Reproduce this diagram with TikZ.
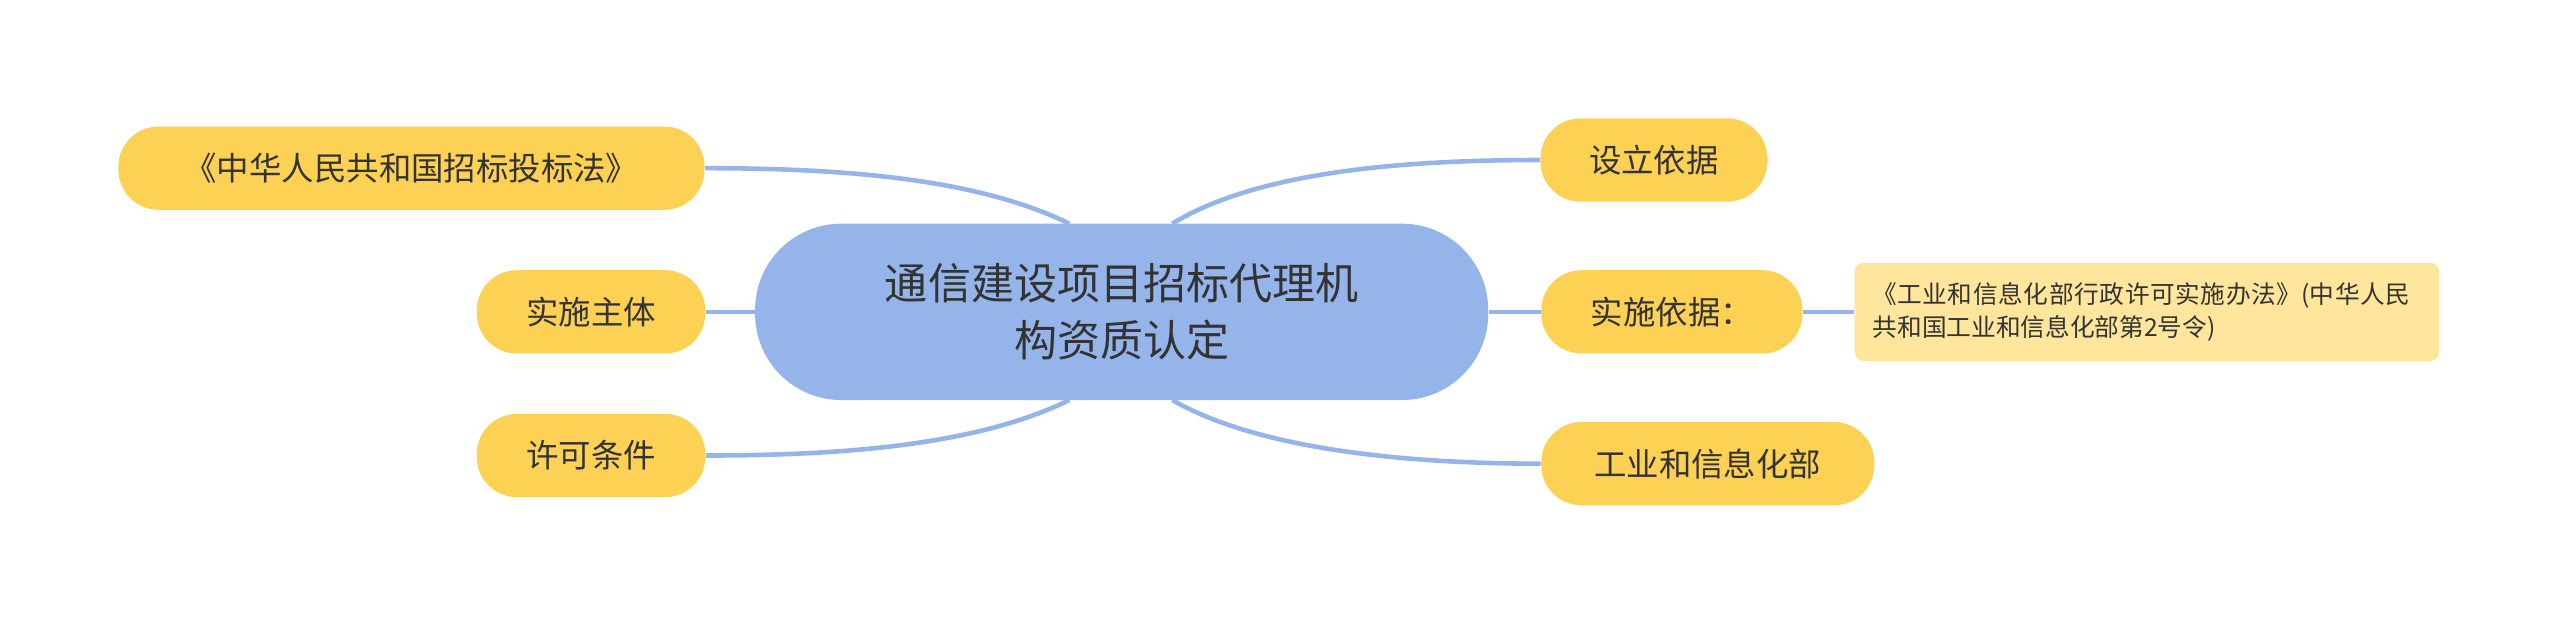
\documentclass[tikz,border=0pt]{standalone}
\usepackage{fontspec}
\newfontfamily\cjk{Noto Sans CJK SC}
\XeTeXlinebreaklocale "zh"
\XeTeXlinebreakskip = 0pt plus 1pt
\definecolor{topicblue}{HTML}{94B4EA}
\definecolor{subyellow}{HTML}{FDD154}
\definecolor{noteyellow}{HTML}{FFE69C}
\definecolor{txtgray}{HTML}{333333}
\tikzset{
  topic/.style={draw=none,fill=topicblue,rounded corners=30pt,minimum width=449*0.02cm,minimum height=108*0.02cm,align=center,font=\cjk\fontsize{15pt}{20pt}\selectfont,text=txtgray},
  sub/.style={draw=none,fill=subyellow,rounded corners=14pt,minimum height=51*0.02cm,inner xsep=12pt,font=\cjk\fontsize{11.3pt}{13pt}\selectfont,text=txtgray},
  note/.style={draw=none,fill=noteyellow,rounded corners=3pt,minimum width=358*0.02cm,minimum height=60*0.02cm,align=left,text width=336*0.02cm,font=\cjk\fontsize{8.6pt}{11.5pt}\selectfont,text=txtgray},
  link/.style={draw=topicblue,line width=1.6pt}
}
\begin{document}
\begin{tikzpicture}[x=0.02cm,y=-0.02cm]
  \useasboundingbox (0,0) rectangle (1568,383);

  \node[topic] (c) at (687,191) {通信建设项目招标代理机\\构资质认定};

  \node[sub,minimum width=359*0.02cm] (law) at (252,103) {《中华人民共和国招标投标法》};
  \node[sub,minimum width=140*0.02cm] (body) at (362,191) {实施主体};
  \node[sub,minimum width=140*0.02cm] (cond) at (362,279) {许可条件};
  \node[sub,minimum width=139*0.02cm] (basis) at (1013,98) {设立依据};
  \node[sub,minimum width=160*0.02cm] (impl) at (1024,191) {实施依据：};
  \node[sub,minimum width=204*0.02cm] (miit) at (1046,284) {工业和信息化部};
  \node[note] (rule) at (1315,191) {《工业和信息化部行政许可实施办法》(中华人民共和国工业和信息化部第2号令)};

  % connectors
  \coordinate (tl) at (655,137);
  \coordinate (tr) at (718,137);
  \coordinate (bl) at (655,245);
  \coordinate (br) at (718,245);
  \draw[link] (tl) .. controls (600,110) and (520,103) .. (law.east);
  \draw[link] (tr) .. controls (770,105) and (860,98) .. (basis.west);
  \draw[link] (bl) .. controls (600,272) and (520,279) .. (cond.east);
  \draw[link] (br) .. controls (770,275) and (860,284) .. (miit.west);
  \draw[link] (c.west) -- (body.east);
  \draw[link] (c.east) -- (impl.west);
  \draw[link] (impl.east) -- (rule.west);
\end{tikzpicture}
\end{document}
